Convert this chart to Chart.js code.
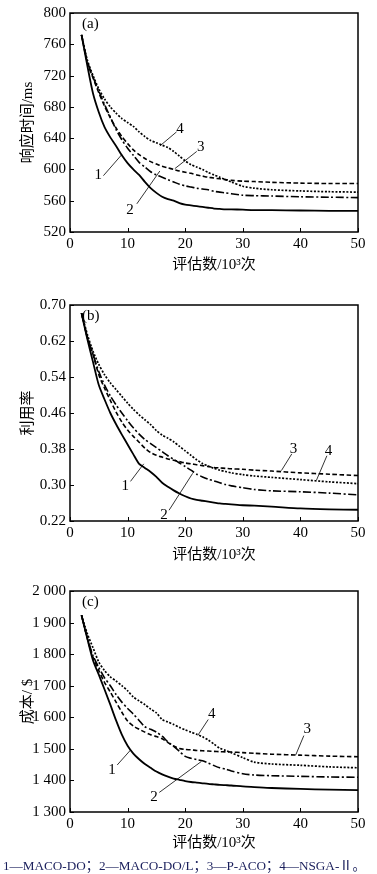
<!DOCTYPE html>
<html>
<head>
<meta charset="utf-8">
<script src="https://cdn.jsdelivr.net/npm/chart.js@4.4.1/dist/chart.umd.min.js"></script>
<style>
html, body { margin: 0; padding: 0; background: #fff; }
body { width: 377px; height: 874px; position: relative; overflow: hidden; }
.panel { position: absolute; left: 0; width: 377px; }
#caption { position: absolute; left: 3px; top: 855px; font: 13.2px 'Liberation Serif', 'Noto Sans CJK SC', serif; white-space: nowrap; color: #1a1f5c; }
</style>
</head>
<body>
<div class="panel" style="top:0;height:280px"><canvas id="chartA"></canvas></div>
<div class="panel" style="top:292px;height:278px"><canvas id="chartB"></canvas></div>
<div class="panel" style="top:578px;height:280px"><canvas id="chartC"></canvas></div>
<div id="caption">1—MACO-DO；2—MACO-DO/L；3—P-ACO；4—NSGA-Ⅱ。</div>
<script>
const SERIF = "'Liberation Serif', 'Noto Sans CJK SC', serif";

// evaluations (10^3)
const evals = [2, 3, 4, 5, 6, 7, 8, 9, 10, 11, 12, 13, 14, 15, 16, 17, 18, 19, 20, 21, 22, 23, 24, 25, 26, 27, 28, 30, 32, 35, 40, 45, 50];
const xTicks = [0, 10, 20, 30, 40, 50];

// (a) response time / ms
const respMacoDo  = [772, 733, 697, 673, 654, 641, 630, 618, 608, 600, 593, 584, 576, 570, 565, 562, 560, 557, 555, 554, 553, 552, 551, 550, 549.5, 549, 549, 548.5, 548, 548, 547.5, 547, 547];
const respMacoDoL = [772, 738, 718, 700, 683, 667, 651, 638, 627, 618, 609, 603, 597, 593, 590, 587, 584, 581, 579, 577.5, 576, 575, 574, 572, 571, 570, 569, 567, 566.5, 566, 565, 564.5, 564];
const respPAco    = [772, 737, 717, 698, 681, 666, 653, 642, 633, 625, 619, 614, 610, 607, 604, 602, 600, 598, 596.5, 595, 593, 591.5, 590, 589, 588, 587, 586, 585, 584.5, 583.5, 582.5, 582, 582];
const respNsga    = [772, 740, 720, 703, 690, 680, 672, 665, 660, 655, 648, 642, 637, 634, 631, 628, 623, 617, 611, 606, 603, 600, 596, 593, 590, 587, 584, 578.5, 576, 574, 572.5, 571.5, 571];
const respTicks = [520, 560, 600, 640, 680, 720, 760, 800];

// (b) utilisation
const utilMacoDo  = [0.682, 0.625, 0.573, 0.522, 0.490, 0.460, 0.435, 0.412, 0.390, 0.368, 0.347, 0.338, 0.329, 0.318, 0.305, 0.296, 0.288, 0.281, 0.275, 0.270, 0.267, 0.265, 0.263, 0.261, 0.259, 0.258, 0.257, 0.255, 0.254, 0.252, 0.248, 0.246, 0.245];
const utilMacoDoL = [0.682, 0.628, 0.590, 0.552, 0.522, 0.498, 0.478, 0.460, 0.443, 0.427, 0.413, 0.401, 0.392, 0.383, 0.374, 0.365, 0.357, 0.349, 0.341, 0.333, 0.324, 0.318, 0.313, 0.309, 0.305, 0.301, 0.298, 0.294, 0.290, 0.287, 0.285, 0.282, 0.278];
const utilPAco    = [0.682, 0.630, 0.590, 0.545, 0.515, 0.488, 0.462, 0.440, 0.422, 0.408, 0.395, 0.382, 0.372, 0.366, 0.362, 0.358, 0.355, 0.352, 0.349, 0.347, 0.345, 0.343, 0.341, 0.339, 0.338, 0.337, 0.336, 0.335, 0.333, 0.331, 0.327, 0.324, 0.321];
const utilNsga    = [0.682, 0.635, 0.597, 0.568, 0.545, 0.527, 0.512, 0.497, 0.482, 0.468, 0.456, 0.445, 0.434, 0.421, 0.411, 0.404, 0.396, 0.386, 0.376, 0.366, 0.356, 0.348, 0.342, 0.337, 0.333, 0.330, 0.327, 0.323, 0.320, 0.317, 0.312, 0.307, 0.303];
const utilTicks = [0.22, 0.30, 0.38, 0.46, 0.54, 0.62, 0.70];

// (c) cost / $
const costMacoDo  = [1923, 1850, 1780, 1735, 1688, 1640, 1590, 1545, 1510, 1485, 1467, 1452, 1440, 1428, 1419, 1412, 1406, 1402, 1398, 1395, 1393, 1391, 1389, 1387.5, 1386, 1385, 1384, 1381, 1379, 1376, 1373, 1371, 1369];
const costMacoDoL = [1923, 1852, 1795, 1758, 1725, 1700, 1672, 1648, 1628, 1610, 1590, 1570, 1562, 1553, 1540, 1522, 1508, 1492, 1476, 1470, 1466, 1462, 1455, 1447, 1440, 1436, 1430, 1421, 1417, 1415, 1413, 1411, 1410];
const costPAco    = [1923, 1850, 1790, 1748, 1710, 1680, 1648, 1616, 1588, 1572, 1562, 1553, 1545, 1539, 1532, 1520, 1509, 1501, 1498, 1497, 1495, 1494, 1493, 1492, 1491, 1490.5, 1490, 1488, 1486, 1483, 1480, 1477, 1475];
const costNsga    = [1923, 1865, 1820, 1775, 1748, 1728, 1715, 1700, 1684, 1664, 1652, 1640, 1626, 1614, 1593, 1585, 1577, 1568, 1560, 1553, 1546, 1538, 1528, 1515, 1502, 1495, 1488, 1472, 1458, 1452, 1448, 1443, 1440];
const costTicks = [1300, 1400, 1500, 1600, 1700, 1800, 1900, 2000];

// numbered labels with leader lines, in data units: [label pos], [line start], [line end]
const calloutsA = [
  { text: '1', at: [4.9, 593], from: [5.8, 592], to: [9.0, 619] },
  { text: '2', at: [10.4, 548], from: [11.6, 556], to: [15.6, 598] },
  { text: '3', at: [22.7, 628], from: [22.0, 623], to: [18.2, 601] },
  { text: '4', at: [19.1, 652], from: [18.5, 648], to: [15.6, 630] }
];
const calloutsB = [
  { text: '1', at: [9.6, 0.297], from: [10.5, 0.308], to: [12.8, 0.347] },
  { text: '2', at: [16.3, 0.233], from: [17.2, 0.244], to: [21.3, 0.326] },
  { text: '3', at: [38.8, 0.380], from: [38.5, 0.369], to: [36.7, 0.332] },
  { text: '4', at: [44.9, 0.376], from: [44.6, 0.365], to: [42.8, 0.311] }
];
const calloutsC = [
  { text: '1', at: [7.3, 1434], from: [8.2, 1449], to: [10.5, 1496] },
  { text: '2', at: [14.6, 1346], from: [15.5, 1362], to: [22.8, 1460] },
  { text: '3', at: [41.2, 1562], from: [40.6, 1542], to: [39.2, 1481] },
  { text: '4', at: [24.6, 1609], from: [24.0, 1593], to: [22.2, 1543] }
];

const lineStyles = [
  { borderDash: [], borderWidth: 1.8 },
  { borderDash: [8, 2.5, 2, 2.5], borderWidth: 1.6 },
  { borderDash: [4.5, 2.5], borderWidth: 1.6 },
  { borderDash: [2, 1.6], borderWidth: 1.7 }
];
const names = ['MACO-DO', 'MACO-DO/L', 'P-ACO', 'NSGA-II'];

Chart.defaults.font.family = SERIF;
Chart.defaults.font.size = 15;
Chart.defaults.color = '#000';

// frame, inward ticks, panel tag and numbered callouts
const framePlugin = {
  id: 'frame',
  afterDatasetsDraw(chart, args, opts) {
    const { ctx, chartArea: a, scales } = chart;
    ctx.save();
    ctx.strokeStyle = '#000';
    ctx.lineWidth = 1.5;
    ctx.setLineDash([]);
    ctx.strokeRect(a.left, a.top, a.right - a.left, a.bottom - a.top);
    ctx.lineWidth = 1;
    scales.y.ticks.forEach(t => {
      const py = Math.round(scales.y.getPixelForValue(t.value)) + 0.5;
      ctx.beginPath(); ctx.moveTo(a.left, py); ctx.lineTo(a.left + 4, py); ctx.stroke();
    });
    scales.x.ticks.forEach(t => {
      const px = Math.round(scales.x.getPixelForValue(t.value)) + 0.5;
      ctx.beginPath(); ctx.moveTo(px, a.bottom); ctx.lineTo(px, a.bottom - 4); ctx.stroke();
    });
    ctx.fillStyle = '#000';
    ctx.font = '15px ' + SERIF;
    ctx.textAlign = 'left';
    ctx.textBaseline = 'middle';
    ctx.fillText(opts.tag, a.left + 12, a.top + 11);
    ctx.textAlign = 'center';
    ctx.lineWidth = 0.8;
    opts.callouts.forEach(c => {
      const px = v => scales.x.getPixelForValue(v[0]);
      const py = v => scales.y.getPixelForValue(v[1]);
      ctx.beginPath();
      ctx.moveTo(px(c.from), py(c.from));
      ctx.lineTo(px(c.to), py(c.to));
      ctx.stroke();
      ctx.fillText(c.text, px(c.at), py(c.at));
    });
    ctx.restore();
  }
};

function makePanel(id, series, yTicks, yTitle, tag, callouts, xAxisHeight, padTop, fmt) {
  const datasets = series.map((vals, i) => ({
    label: names[i],
    data: evals.map((x, k) => ({ x: x, y: vals[k] })),
    borderColor: '#000',
    borderWidth: lineStyles[i].borderWidth,
    borderDash: lineStyles[i].borderDash,
    pointRadius: 0,
    tension: 0.25,
    fill: false
  }));
  return new Chart(document.getElementById(id), {
    type: 'line',
    data: { datasets: datasets },
    options: {
      responsive: true,
      maintainAspectRatio: false,
      animation: false,
      layout: { padding: { top: padTop, right: 19, left: 0, bottom: 0 } },
      plugins: {
        legend: { display: false },
        tooltip: { enabled: false },
        frame: { tag: tag, callouts: callouts }
      },
      scales: {
        x: {
          type: 'linear',
          min: 0, max: 50,
          afterBuildTicks: s => { s.ticks = xTicks.map(v => ({ value: v })); },
          afterFit: s => { s.height = xAxisHeight; },
          grid: { display: false, drawTicks: false },
          border: { display: false },
          ticks: { padding: 3, maxRotation: 0, font: { size: 15 } },
          title: { display: true, text: '评估数/10³次', font: { size: 15 }, padding: { top: 0, bottom: 6 } }
        },
        y: {
          type: 'linear',
          min: yTicks[0], max: yTicks[yTicks.length - 1],
          afterBuildTicks: s => { s.ticks = yTicks.map(v => ({ value: v })); },
          afterFit: s => { s.width = 70; },
          grid: { display: false, drawTicks: false },
          border: { display: false },
          ticks: { padding: 4, font: { size: 15 }, callback: fmt },
          title: { display: true, text: yTitle, font: { size: 15 }, padding: { top: 19, bottom: 0 } }
        }
      }
    },
    plugins: [framePlugin]
  });
}

makePanel('chartA', [respMacoDo, respMacoDoL, respPAco, respNsga], respTicks, '响应时间/ms', '(a)', calloutsA, 48, 5,
  v => String(v));
makePanel('chartB', [utilMacoDo, utilMacoDoL, utilPAco, utilNsga], utilTicks, '利用率', '(b)', calloutsB, 49, 6,
  v => v.toFixed(2));
makePanel('chartC', [costMacoDo, costMacoDoL, costPAco, costNsga], costTicks, '成本/ $', '(c)', calloutsC, 46, 7,
  v => String(v).replace(/^(\d)(\d{3})$/, '$1 $2'));
</script>
</body>
</html>
